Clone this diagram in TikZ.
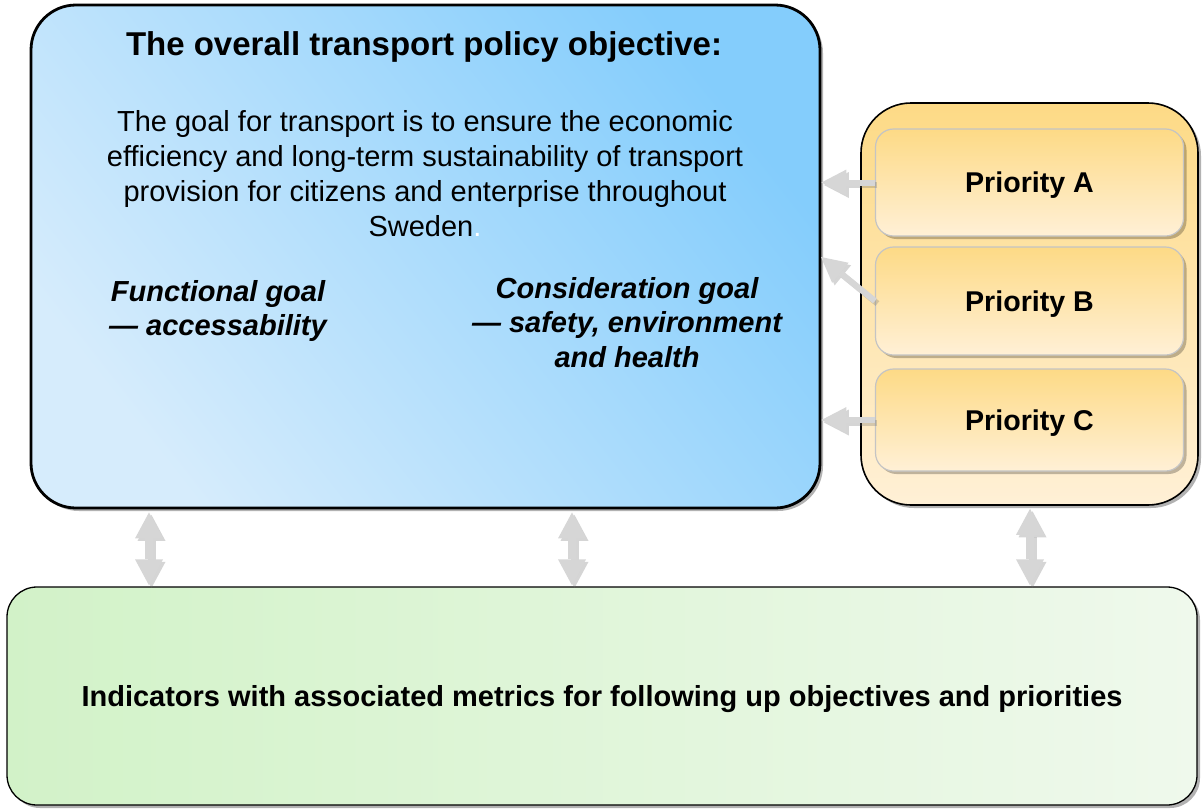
\documentclass[tikz,border=0pt]{standalone}
\usepackage{fontspec}
\setmainfont{Liberation Sans}
\usetikzlibrary{arrows.meta,shadows,calc}

\definecolor{objlight}{HTML}{D6ECFC}
\definecolor{objdark}{HTML}{84CDFC}
\definecolor{prioTop}{HTML}{FDDA86}
\definecolor{prioBot}{HTML}{FFF0D6}
\definecolor{indLeft}{HTML}{D2F2C8}
\definecolor{indRight}{HTML}{EFF9EC}
\definecolor{arrowgray}{HTML}{D6D6D6}
\definecolor{prioedge}{HTML}{C4C4C4}

\tikzset{
  softshadow/.style={drop shadow={shadow xshift=3pt,shadow yshift=-3pt,fill=black,opacity=0.3}},
  objbox/.style={draw=black, line width=2.8pt, rounded corners=45pt,
    minimum width=789pt, minimum height=503pt, inner sep=0pt,
    left color=objlight, right color=objdark, shading angle=128, softshadow},
  prioframe/.style={draw=black, line width=1.6pt, rounded corners=50pt,
    minimum width=337pt, minimum height=402pt, inner sep=0pt,
    top color=prioTop, bottom color=prioBot, softshadow},
  priobox/.style={draw=prioedge, line width=1.2pt, rounded corners=18pt,
    minimum width=308pt, inner sep=0pt, text depth=0pt,
    top color=prioTop, bottom color=prioBot,
    drop shadow={shadow xshift=3pt,shadow yshift=-3pt,fill=black,opacity=0.25},
    font=\fontsize{28.6}{33}\selectfont\bfseries},
  indbox/.style={draw=black, line width=1.3pt, rounded corners=30pt,
    minimum width=1190pt, minimum height=218pt, inner sep=0pt, text depth=0pt,
    left color=indLeft, right color=indRight, softshadow,
    font=\fontsize{29}{34}\selectfont\bfseries},
  linkarrow/.style={draw=arrowgray, line width=6pt,
    -{Triangle[width=26pt,length=25pt,line width=0pt]}},
  linkshade/.style={draw=black!55, opacity=0.3, line width=6pt,
    -{Triangle[width=26pt,length=25pt,line width=0pt]},
    transform canvas={shift={(2.5pt,-2.5pt)}}},
  dualarrow/.style={draw=arrowgray, line width=8pt,
    {Triangle[width=28pt,length=26pt,line width=0pt]}-{Triangle[width=28pt,length=26pt,line width=0pt]}},
  dualshade/.style={draw=black!55, opacity=0.3, line width=8pt,
    {Triangle[width=28pt,length=26pt,line width=0pt]}-{Triangle[width=28pt,length=26pt,line width=0pt]},
    transform canvas={shift={(2.5pt,-2.5pt)}}},
  bodytext/.style={align=center, inner sep=0pt, font=\fontsize{29}{35}\selectfont},
  goaltext/.style={align=center, inner sep=0pt, font=\fontsize{29}{34.5}\selectfont\bfseries\itshape}
}

\begin{document}
\begin{tikzpicture}[x=1pt,y=-1pt]
\useasboundingbox (0,0) rectangle (1204,809);

% main boxes
\node[objbox] (obj) at (425.5,256.5) {};
\node[prioframe] (frame) at (1029.5,304) {};
\node[priobox, minimum height=107pt] (pa) at (1029.5,182.5) {Priority A};
\node[priobox, minimum height=108pt] (pb) at (1029.5,301) {Priority B};
\node[priobox, minimum height=102pt] (pc) at (1029.5,420) {Priority C};
\node[indbox] (ind) at (602,696)
  {Indicators with associated metrics for following up objectives and priorities};

% texts inside the objective box
\node[anchor=north, inner sep=0pt, font=\fontsize{33}{38}\selectfont\bfseries] (title)
  at (424,31) {The overall transport policy objective:};
\node[bodytext, anchor=north] (goal) at (425,110)
  {The goal for transport is to ensure the economic\\
   efficiency and long-term sustainability of transport\\
   provision for citizens and enterprise throughout\\
   Sweden{\color{white}.}};
\node[goaltext, anchor=north] (func) at (218,280)
  {Functional goal\\ — accessability};
\node[goaltext, anchor=north] (cons) at (627,277)
  {Consideration goal\\ — safety, environment\\ and health};

% arrows from the priorities to the objective
\coordinate (btip) at (821,257);
\draw[linkshade] (pa.west) -- (obj.east |- pa.west);
\draw[linkarrow] (pa.west) -- (obj.east |- pa.west);
\draw[linkshade] (pb.west) -- (btip);
\draw[linkarrow] (pb.west) -- (btip);
\draw[linkshade] (pc.west) -- (obj.east |- pc.west);
\draw[linkarrow] (pc.west) -- (obj.east |- pc.west);

% two-way arrows to the indicators
\coordinate (u1) at (149,0);
\coordinate (u2) at (572,0);
\coordinate (u3) at (1030,0);
\draw[dualshade] ([yshift=-3pt]obj.south -| u1) -- ([yshift=1pt]ind.north -| u1);
\draw[dualarrow] ([yshift=-3pt]obj.south -| u1) -- ([yshift=1pt]ind.north -| u1);
\draw[dualshade] ([yshift=-3pt]obj.south -| u2) -- ([yshift=1pt]ind.north -| u2);
\draw[dualarrow] ([yshift=-3pt]obj.south -| u2) -- ([yshift=1pt]ind.north -| u2);
\draw[dualshade] ([yshift=-3pt]frame.south -| u3) -- ([yshift=1pt]ind.north -| u3);
\draw[dualarrow] ([yshift=-3pt]frame.south -| u3) -- ([yshift=1pt]ind.north -| u3);
\end{tikzpicture}
\end{document}
